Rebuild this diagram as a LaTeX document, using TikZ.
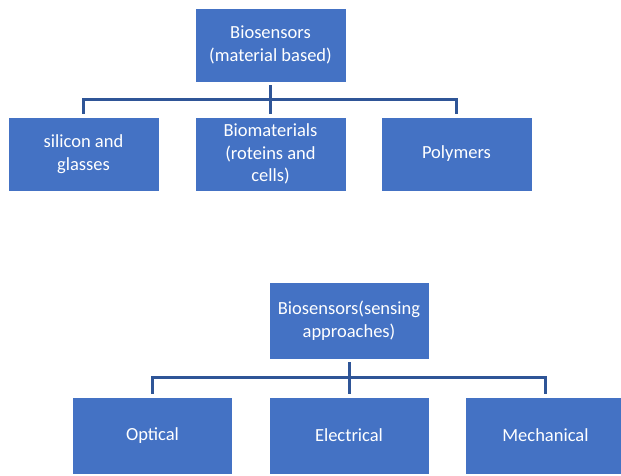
\documentclass[tikz,border=0pt]{standalone}
\usepackage{fontspec}
\setmainfont{Carlito}
\usetikzlibrary{positioning}
\definecolor{boxblue}{HTML}{4472C4}
\definecolor{linkblue}{HTML}{2F5597}

\tikzset{
  box/.style={draw=white, line width=0.6pt, fill=boxblue, text=white, align=center,
              font=\fontsize{18.5}{22.5}\selectfont, inner sep=2pt},
  boxa/.style={box, minimum width=151pt, minimum height=74pt},
  boxb/.style={box, minimum width=160pt, minimum height=77pt},
  link/.style={draw=linkblue, line width=3pt}
}

\begin{document}
\begin{tikzpicture}[x=1pt, y=-1pt]
 \useasboundingbox (0,0) rectangle (621,475);

 %level 1 (material based)
 \node[boxa] (matroot) at (270.5,45) {Biosensors\\(material based)};

 \foreach \name/\x/\txt in {silicon/83.5/{silicon and\\glasses}, biomat/270.5/{Biomaterials\\(roteins and\\cells)}, polymers/456.5/{Polymers}} {
         \node[boxa] (\name) at (\x,154) {\txt};
 }

 %level 2 (sensing approaches)
 \node[boxb] (senseroot) at (349,320.5) {Biosensors(sensing\\approaches)};

 \foreach \name/\x/\txt in {optical/152.5/Optical, electrical/349/Electrical, mechanical/545.5/Mechanical} {
         \node[boxb] (\name) at (\x,435.5) {\txt};
 }

 % lines
 \coordinate (busa) at (0,99);
 \coordinate (busb) at (0,377.5);

 \draw[link] ([yshift=-3pt]matroot.south) -- ([yshift=3pt]biomat.north);
 \draw[link] ([yshift=3pt]silicon.north) -- (silicon.north |- busa) -- (polymers.north |- busa) -- ([yshift=3pt]polymers.north);

 \draw[link] ([yshift=-3pt]senseroot.south) -- ([yshift=3pt]electrical.north);
 \draw[link] ([yshift=3pt]optical.north) -- (optical.north |- busb) -- (mechanical.north |- busb) -- ([yshift=3pt]mechanical.north);

\end{tikzpicture}
\end{document}
